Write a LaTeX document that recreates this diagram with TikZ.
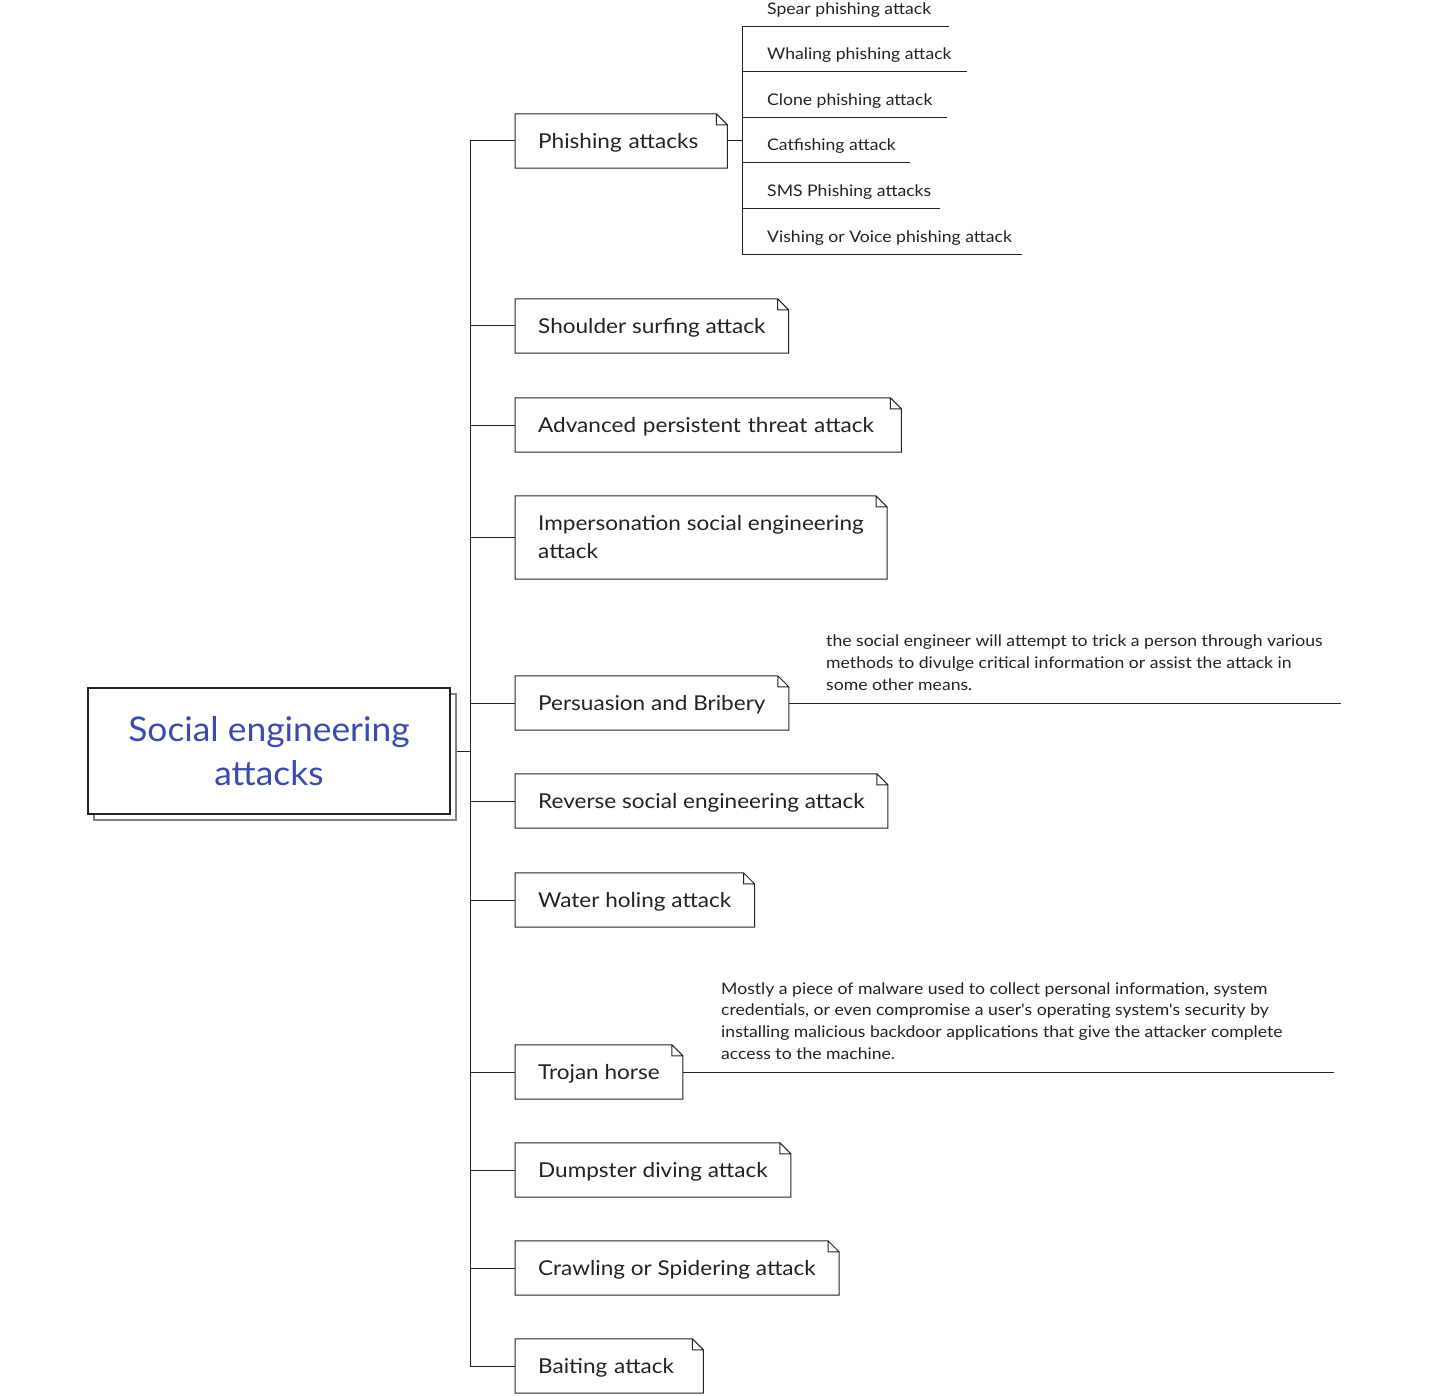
\documentclass[tikz,border=0pt]{standalone}
\usepackage{fontspec}
\setmainfont{Lato}
\newfontfamily\rootfont[FakeStretch=1.04]{Lato}
\newfontfamily\topicfont[FakeStretch=1.1]{Lato}
\usetikzlibrary{positioning,calc,shadows}
\definecolor{rootblue}{RGB}{58,75,175}
\definecolor{inkgray}{RGB}{34,34,34}
\tikzset{
  link/.style={draw=inkgray,line width=1pt},
  rootbox/.style={draw=inkgray,line width=1.2pt,fill=white,minimum width=362pt,minimum height=126pt,
    align=center,text=rootblue,font=\rootfont\fontsize{34}{44}\selectfont,
    copy shadow={shadow xshift=6pt,shadow yshift=-6pt,draw=black!50,line width=1.6pt,fill=white}},
  topic/.style={anchor=west,inner xsep=23pt,inner ysep=0pt,minimum height=54pt,
    text height=18.5pt,text depth=3.7pt,
    align=left,text=inkgray,font=\topicfont\fontsize{20.5}{28}\selectfont},
  subtopic/.style={anchor=south west,inner xsep=0pt,inner ysep=9pt,text=inkgray,
    font=\topicfont\fontsize{16}{20}\selectfont},
  note/.style={anchor=south west,inner xsep=0pt,inner ysep=12.5pt,align=left,text=inkgray,
    font=\topicfont\fontsize{16}{21.7}\selectfont}
}
\begin{document}
\begin{tikzpicture}[x=1pt,y=-1pt]
\useasboundingbox (0,0) rectangle (1453,1396);
% root topic
\node[rootbox] (root) at (269,751) {Social engineering\\attacks};
% main topics
\node[topic,text width=166pt] (ph) at (515,141) {Phishing attacks};
\node[topic] (ss) at (515,326) {Shoulder surfing attack};
\node[topic,text width=340pt] (ap) at (515,425) {Advanced persistent threat attack};
\node[topic,text height={},text depth={},minimum height=83pt] (im) at (515,537.5) {Impersonation social engineering\\attack};
\node[topic] (pb) at (515,703) {Persuasion and Bribery};
\node[topic] (rs) at (515,801) {Reverse social engineering attack};
\node[topic] (wh) at (515,900) {Water holing attack};
\node[topic] (th) at (515,1072) {Trojan horse};
\node[topic] (dd) at (515,1170) {Dumpster diving attack};
\node[topic] (cs) at (515,1268) {Crawling or Spidering attack};
\node[topic,text width=142pt] (ba) at (515,1366) {Baiting attack};
% folded corner outline
\foreach \n in {ph,ss,ap,im,pb,rs,wh,th,dd,cs,ba}
  \draw[link] (\n.north west) -- ([xshift=-11pt]\n.north east) -- ([yshift=-11pt]\n.north east)
    -- (\n.south east) -- (\n.south west) -- cycle
    ([xshift=-11pt]\n.north east) |- ([yshift=-11pt]\n.north east);
% trunk
\coordinate (trunk) at (470,0);
\draw[link] ([xshift=6pt]root.east) -- (trunk |- root.east);
\draw[link] (trunk |- ph.west) -- (trunk |- ba.west);
\foreach \n in {ph,ss,ap,im,pb,rs,wh,th,dd,cs,ba}
  \draw[link] (trunk |- \n.west) -- (\n.west);
% phishing subtopics
\node[subtopic] (sp) at (767,27) {Spear phishing attack};
\node[subtopic] (wp) at (767,72) {Whaling phishing attack};
\node[subtopic] (cp) at (767,118) {Clone phishing attack};
\node[subtopic] (cf) at (767,163) {Catfishing attack};
\node[subtopic] (sm) at (767,209) {SMS Phishing attacks};
\node[subtopic] (vp) at (767,255) {Vishing or Voice phishing attack};
\draw[link] (ph.east) -- ++(15,0) coordinate (phfork);
\draw[link] (phfork |- sp.south) -- (phfork |- vp.south);
\foreach \n/\gap in {sp/18,wp/15,cp/14,cf/14,sm/9,vp/10}
  \draw[link] (phfork |- \n.south) -- ([xshift=\gap pt]\n.south east);
% notes
\node[note] (pbnote) at (826,703) {the social engineer will attempt to trick a person through various\\
  methods to divulge critical information or assist the attack in\\some other means.};
\coordinate (pbend) at (1341,703);
\draw[link] (pb.east) -- (pbend);
\node[note] (thnote) at (721,1072) {Mostly a piece of malware used to collect personal information, system\\
  credentials, or even compromise a user's operating system's security by\\
  installing malicious backdoor applications that give the attacker complete\\access to the machine.};
\coordinate (thend) at (1334,1072);
\draw[link] (th.east) -- (thend);
\end{tikzpicture}
\end{document}
